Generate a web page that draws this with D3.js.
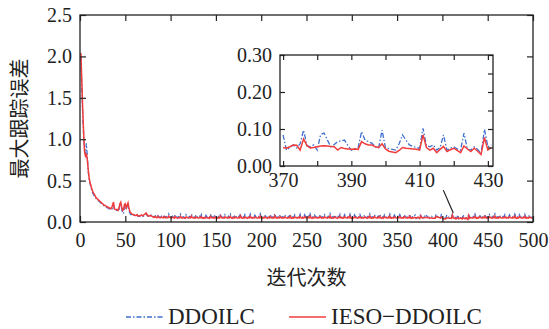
<!DOCTYPE html>
<html>
<head>
<script src="https://cdn.jsdelivr.net/npm/d3@7"></script>
</head>
<body style="margin:0">
<div id="chart"></div>
<script>
// max tracking error per iteration, iteration 1..500
const ddoilc = [
  2.00,1.62,1.30,1.05,0.88,0.82,0.95,0.80,0.62,0.52,0.47,0.42,0.38,0.35,0.33,0.31,0.30,0.28,0.27,0.26,
  0.25,0.24,0.23,0.22,0.21,0.20,0.19,0.19,0.18,0.17,0.17,0.16,0.16,0.15,0.15,0.17,0.20,0.15,0.14,0.14,
  0.14,0.13,0.15,0.20,0.22,0.16,0.11,0.10,0.18,0.20,0.15,0.19,0.21,0.14,0.11,0.09,0.09,0.08,0.08,0.08,
  .075,.070,.080,.070,.065,.070,.075,.070,.065,.070,.080,.090,.100,.080,.070,.065,.070,.075,.090,.070,
  .065,.060,.075,.060,.055,.090,.065,.060,.055,.070,.060,.055,.085,.060,.065,.055,.060,.095,.065,.060,
  .055,.070,.060,.050,.088,.062,.058,.052,.066,.060,.092,.058,.054,.064,.058,.050,.086,.064,.058,.055,
  .068,.060,.095,.062,.055,.060,.052,.084,.066,.058,.054,.070,.060,.090,.058,.052,.062,.056,.080,.062,
  .055,.060,.052,.094,.064,.058,.066,.054,.086,.060,.056,.050,.068,.060,.098,.062,.056,.060,.052,.088,
  .064,.058,.054,.072,.060,.092,.058,.052,.062,.055,.085,.066,.058,.054,.068,.060,.100,.060,.054,.062,
  .054,.088,.062,.058,.052,.070,.060,.094,.060,.054,.064,.056,.082,.064,.058,.054,.068,.060,.096,.058,
  .054,.062,.055,.086,.064,.058,.052,.072,.060,.090,.060,.054,.062,.056,.100,.062,.056,.054,.070,.060,
  .088,.060,.054,.064,.055,.084,.066,.058,.054,.068,.060,.094,.058,.052,.062,.056,.086,.064,.058,.054,
  .070,.060,.092,.060,.054,.062,.055,.088,.064,.058,.052,.072,.060,.096,.058,.052,.062,.056,.082,.066,
  .058,.054,.068,.060,.090,.060,.054,.064,.055,.086,.064,.058,.054,.070,.060,.098,.058,.054,.062,.056,
  .084,.066,.058,.052,.068,.060,.092,.060,.054,.062,.056,.088,.064,.058,.054,.072,.060,.094,.058,.052,
  .062,.055,.086,.066,.058,.054,.068,.060,.090,.060,.054,.064,.056,.084,.064,.058,.052,.070,.060,.096,
  .058,.054,.062,.056,.088,.064,.058,.054,.072,.060,.092,.060,.052,.062,.055,.086,.066,.058,.054,.068,
  .060,.094,.058,.054,.064,.056,.084,.064,.058,.052,.070,.060,.090,.060,.054,.062,.056,.088,.064,.058,
  .054,.068,.060,.094,.058,.052,.062,.056,.074,
  .084,.043,.050,.057,.049,.060,.097,.055,.052,.057,.043,.085,.089,.070,.052,.058,.066,.068,.070,.055,
  .043,.047,.050,.093,.070,.066,.062,.052,.049,.097,.049,.047,.045,.043,.060,.084,.070,.057,.053,.050,
  .048,.102,.055,.052,.057,.043,.050,.084,.043,.048,.052,.046,.043,.089,.045,.043,.052,.045,.034,.099,
  .052,.057,
  .060,.054,.068,.060,.094,.058,.052,.062,.056,.086,.064,.058,.054,.070,.060,.092,.060,.054,.062,.055,
  .088,.064,.058,.052,.072,.060,.096,.058,.054,.062,.056,.084,.066,.058,.054,.068,.060,.090,.060,.054,
  .064,.056,.086,.064,.058,.054,.070,.060,.094,.058,.052,.062,.056,.088,.064,.058,.054,.068,.060,.092,
  .058,.054,.062,.056,.082,.064,.058,.054,.060
];

const iesoDdoilc = [
  2.04,1.70,1.35,1.08,0.85,0.80,0.83,0.76,0.64,0.54,0.48,0.44,0.40,0.37,0.35,0.33,0.31,0.29,0.28,0.27,
  0.26,0.25,0.24,0.23,0.22,0.21,0.20,0.20,0.19,0.18,0.18,0.17,0.17,0.16,0.17,0.21,0.24,0.16,0.15,0.15,
  0.15,0.14,0.17,0.22,0.24,0.18,0.14,0.15,0.21,0.22,0.17,0.20,0.23,0.17,0.13,0.11,0.10,0.09,0.09,.085,
  .080,.080,.090,.075,.070,.075,.080,.085,.075,.080,.090,.100,.110,.090,.075,.070,.075,.080,.070,.065,
  .060,.055,.065,.055,.050,.070,.055,.050,.050,.060,.055,.050,.065,.050,.055,.050,.050,.070,.055,.050,
  .048,.058,.052,.046,.066,.052,.050,.046,.054,.050,.070,.050,.046,.052,.050,.044,.062,.054,.050,.048,
  .056,.050,.072,.052,.048,.050,.046,.060,.054,.050,.046,.056,.050,.066,.048,.044,.052,.048,.058,.052,
  .048,.050,.044,.070,.054,.050,.054,.046,.062,.050,.048,.044,.056,.050,.074,.052,.048,.050,.046,.064,
  .054,.050,.046,.058,.050,.068,.050,.044,.052,.048,.062,.054,.050,.046,.056,.050,.076,.050,.046,.052,
  .046,.064,.052,.050,.044,.058,.050,.070,.050,.046,.054,.048,.060,.054,.050,.046,.056,.050,.072,.048,
  .046,.052,.048,.062,.054,.050,.044,.058,.050,.066,.050,.046,.052,.048,.074,.052,.048,.046,.058,.050,
  .064,.050,.046,.054,.048,.060,.054,.050,.046,.056,.050,.070,.048,.044,.052,.048,.062,.054,.050,.046,
  .058,.050,.068,.050,.046,.052,.048,.064,.054,.050,.044,.058,.050,.072,.048,.044,.052,.048,.060,.054,
  .050,.046,.056,.050,.066,.050,.046,.054,.048,.062,.054,.050,.046,.058,.050,.074,.048,.046,.052,.048,
  .060,.054,.050,.044,.056,.050,.068,.050,.046,.052,.048,.064,.054,.050,.046,.058,.050,.070,.048,.044,
  .052,.048,.062,.054,.050,.046,.056,.050,.066,.050,.046,.054,.048,.060,.054,.050,.044,.058,.050,.072,
  .048,.046,.052,.048,.064,.054,.050,.046,.058,.050,.068,.050,.044,.052,.048,.062,.054,.050,.046,.056,
  .050,.070,.048,.046,.054,.048,.060,.054,.050,.044,.058,.050,.066,.050,.046,.052,.048,.064,.054,.050,
  .046,.056,.050,.070,.048,.044,.052,.048,.056,
  .050,.048,.052,.057,.056,.043,.073,.055,.049,.050,.052,.054,.055,.054,.053,.052,.043,.050,.047,.046,
  .045,.046,.045,.066,.060,.057,.057,.052,.050,.060,.046,.040,.038,.036,.042,.050,.048,.047,.046,.045,
  .043,.084,.050,.043,.048,.036,.045,.053,.039,.044,.048,.042,.036,.054,.046,.039,.048,.040,.031,.077,
  .043,.050,
  .050,.046,.056,.050,.068,.048,.044,.052,.048,.062,.054,.050,.046,.058,.050,.070,.050,.046,.052,.048,
  .064,.054,.050,.044,.058,.050,.072,.048,.046,.052,.048,.060,.054,.050,.046,.056,.050,.066,.050,.046,
  .054,.048,.062,.054,.050,.046,.058,.050,.070,.048,.044,.052,.048,.064,.054,.050,.046,.056,.050,.068,
  .048,.046,.052,.048,.060,.054,.050,.046,.052
];

const seriesNames = ["DDOILC", "IESO\u2212DDOILC"];
const xTitle = "\u8fed\u4ee3\u6b21\u6570";           // 迭代次数
const yTitle = "\u6700\u5927\u8ddf\u8e2a\u8bef\u5dee"; // 最大跟踪误差
const mainXTicks = [0, 50, 100, 150, 200, 250, 300, 350, 400, 450, 500];
const mainYTicks = [0.0, 0.5, 1.0, 1.5, 2.0, 2.5];
const insetRange = [370, 431];
const insetXTicks = [370, 380, 390, 400, 410, 420, 430];
const insetXLabels = [370, 390, 410, 430];
const insetYTicks = [0.00, 0.05, 0.10, 0.15, 0.20, 0.25, 0.30];
const insetYLabels = [0.00, 0.10, 0.20, 0.30];

const W = 549, H = 329;
const blue = "#3f6fd0", red = "#f23c3c", ink = "#222";
const serifFont = '"Liberation Serif"';
const cjkFont = '"Noto Sans CJK SC"';

const svg = d3.select("#chart").append("svg").attr("width", W).attr("height", H)
  .style("display", "block");

const toPoints = arr => arr.map((v, i) => ({ it: i + 1, v }));
const blueData = toPoints(ddoilc), redData = toPoints(iesoDdoilc);

// ---- main plot ----
const x = d3.scaleLinear().domain([0, 500]).range([80, 533]);
const y = d3.scaleLinear().domain([0, 2.5]).range([222, 15]);

function frameAxes(g, xs, ys, xt, yt, xl, yl, yRight, tick, fontSize, pad) {
  const [x0, x1] = xs.range(), [y0, y1] = ys.range();
  const fmtX = d => xl.includes(d) ? d : "";
  g.append("g").attr("transform", `translate(0,${y0})`)
    .call(d3.axisBottom(xs).tickValues(xt).tickFormat(fmtX).tickSizeInner(-tick).tickSizeOuter(0).tickPadding(pad));
  g.append("g").attr("transform", `translate(0,${y1})`)
    .call(d3.axisTop(xs).tickValues(xt).tickFormat("").tickSizeInner(-tick).tickSizeOuter(0));
  g.append("g").attr("transform", `translate(${x0},0)`)
    .call(d3.axisLeft(ys).tickValues(yt).tickFormat(d => yl(d)).tickSizeInner(-tick).tickSizeOuter(0).tickPadding(8));
  g.append("g").attr("transform", `translate(${x1},0)`)
    .call(d3.axisRight(ys).tickValues(yRight).tickFormat("").tickSizeInner(-tick).tickSizeOuter(0));
  g.selectAll(".domain").remove();
  g.selectAll("g").attr("font-family", null).attr("font-size", null);
  g.selectAll(".tick line").attr("stroke", ink).attr("stroke-width", 1.2);
  g.selectAll(".tick text").attr("font-size", fontSize).style("font-family", serifFont).attr("fill", ink);
  g.append("rect").attr("x", x0).attr("y", y1).attr("width", x1 - x0).attr("height", y0 - y1)
    .attr("fill", "none").attr("stroke", ink).attr("stroke-width", 1.3);
}

svg.append("clipPath").attr("id", "mainClip").append("rect")
  .attr("x", 80).attr("y", 15).attr("width", 453).attr("height", 207);

const mainLine = d3.line().x(d => x(d.it)).y(d => y(d.v));
const plot = svg.append("g").attr("clip-path", "url(#mainClip)");
plot.append("path").datum(blueData).attr("d", mainLine).attr("fill", "none")
  .attr("stroke", blue).attr("stroke-width", 1.3).attr("stroke-dasharray", "5,2,1.5,2");
plot.append("path").datum(redData).attr("d", mainLine).attr("fill", "none")
  .attr("stroke", red).attr("stroke-width", 1.5);

frameAxes(svg.append("g"), x, y, mainXTicks, mainYTicks, mainXTicks, d => d3.format(".1f")(d),
  mainYTicks, 6, 20, 11);

// ---- inset ----
const ix = d3.scaleLinear().domain([369.1, 431.5]).range([280, 493]);
const iy = d3.scaleLinear().domain([0, 0.30]).range([166, 55]);
const inBlue = blueData.filter(d => d.it >= insetRange[0] && d.it <= insetRange[1]);
const inRed = redData.filter(d => d.it >= insetRange[0] && d.it <= insetRange[1]);

svg.append("rect").attr("x", 280).attr("y", 55).attr("width", 213).attr("height", 111).attr("fill", "#fff");
svg.append("clipPath").attr("id", "inClip").append("rect")
  .attr("x", 280).attr("y", 55).attr("width", 213).attr("height", 111);
const insetLine = d3.line().x(d => ix(d.it)).y(d => iy(d.v));
const ip = svg.append("g").attr("clip-path", "url(#inClip)");
ip.append("path").datum(inBlue).attr("d", insetLine).attr("fill", "none")
  .attr("stroke", blue).attr("stroke-width", 1.3).attr("stroke-dasharray", "5,2,1.5,2");
ip.append("path").datum(inRed).attr("d", insetLine).attr("fill", "none")
  .attr("stroke", red).attr("stroke-width", 1.5);

frameAxes(svg.append("g"), ix, iy, insetXTicks, insetYLabels, insetXLabels, d => d3.format(".2f")(d),
  insetYTicks, 5, 20, 7);

// pointer from inset to the zoomed section
svg.append("line")
  .attr("x1", x(401)).attr("y1", y(0.385))
  .attr("x2", x(412)).attr("y2", y(0.11))
  .attr("stroke", ink).attr("stroke-width", 1.2);

// ---- axis titles ----
svg.append("text").attr("x", 306.5).attr("y", 285).attr("text-anchor", "middle")
  .attr("font-size", 20).style("font-family", cjkFont).attr("fill", ink).text(xTitle);
svg.append("text").attr("transform", "translate(27,118.5) rotate(-90)").attr("text-anchor", "middle")
  .attr("font-size", 20).style("font-family", cjkFont).attr("fill", ink).text(yTitle);

// ---- legend ----
const legend = svg.append("g");
const legendItems = [
  { name: seriesNames[0], color: blue, dash: "5,2,1.5,2", x: 126 },
  { name: seriesNames[1], color: red, dash: null, x: 289 }
];
legendItems.forEach(it => {
  legend.append("line").attr("x1", it.x).attr("x2", it.x + 37).attr("y1", 317).attr("y2", 317)
    .attr("stroke", it.color).attr("stroke-width", 1.5).attr("stroke-dasharray", it.dash);
  legend.append("text").attr("x", it.x + 42).attr("y", 324)
    .attr("font-size", 23).style("font-family", serifFont).attr("fill", ink).text(it.name);
});
</script>
</body>
</html>
